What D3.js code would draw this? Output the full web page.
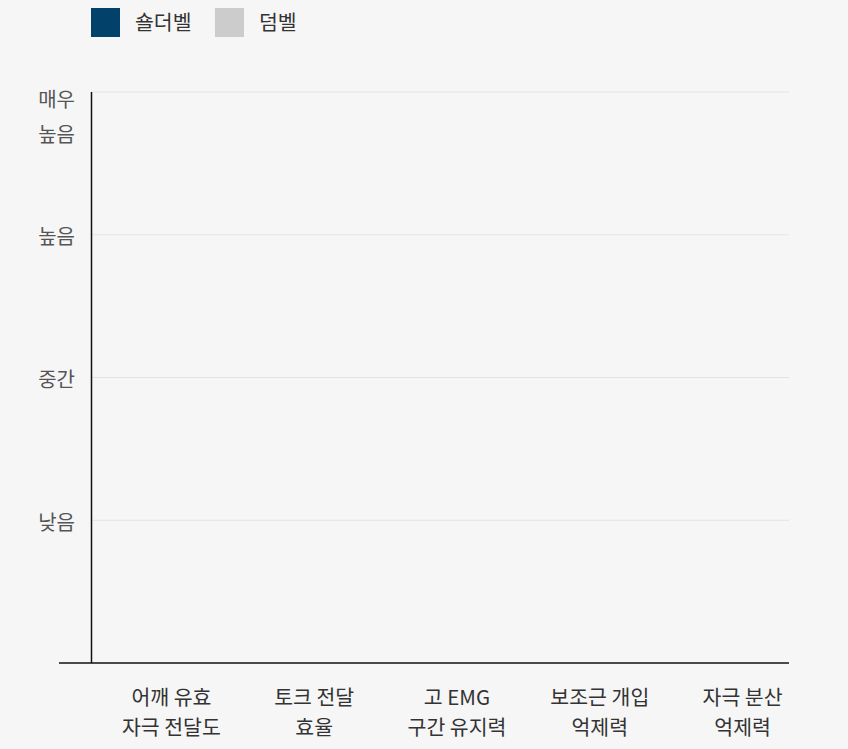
<!DOCTYPE html>
<html><head><meta charset="utf-8">
<script src="https://cdn.jsdelivr.net/npm/d3@7"></script>
<style>
html,body{margin:0;padding:0;background:#f6f6f6;}
svg{display:block;font-family:"Noto Sans CJK KR","Noto Sans",sans-serif;}
</style></head>
<body><svg id="c" width="848" height="749"></svg>
<script>
const categories = [["어깨 유효","자극 전달도"],["토크 전달","효율"],["고 EMG","구간 유지력"],["보조근 개입","억제력"],["자극 분산","억제력"]];
const seriesNames = ["숄더벨","덤벨"];
const seriesColors = ["#02426a","#cccccc"];
// bars are not visible in the reference (zero height)
const shoulderbell = [0,0,0,0,0];
const dumbbell = [0,0,0,0,0];
const tickValues = [1,2,3,4];
const tickLabels = [["낮음"],["중간"],["높음"],["매우","높음"]];

const svg = d3.select("#c");
const x = d3.scaleBand().domain(d3.range(categories.length)).range([100,814]).paddingInner(0.3).paddingOuter(0.15);
const y = d3.scaleLinear().domain([0,4]).range([663,92]);

// gridlines
svg.append("g").selectAll("line").data(tickValues).join("line")
  .attr("x1",91).attr("x2",789).attr("y1",d=>y(d)).attr("y2",d=>y(d))
  .attr("stroke","#e4e4e4").attr("stroke-width",1);

// bars
const x1 = d3.scaleBand().domain([0,1]).range([0,x.bandwidth()]).padding(0.05);
const all = [shoulderbell,dumbbell];
all.forEach((vals,si)=>{
  svg.append("g").selectAll("rect").data(vals).join("rect")
    .attr("x",(d,i)=>x(i)+x1(si)).attr("width",x1.bandwidth())
    .attr("y",d=>y(d)).attr("height",d=>y(0)-y(d)).attr("fill",seriesColors[si]);
});

// y axis
svg.append("line").attr("x1",91.5).attr("x2",91.5).attr("y1",y(4)).attr("y2",y(0)).attr("stroke","#111").attr("stroke-width",1.5);
// x axis
svg.append("line").attr("x1",59).attr("x2",789).attr("y1",663).attr("y2",663).attr("stroke","#111").attr("stroke-width",1.5);

// y labels
const yl = svg.append("g").attr("font-size",20).attr("fill","#555").attr("text-anchor","end");
tickValues.forEach((v,i)=>{
  const lines = tickLabels[i];
  const t = yl.append("text").attr("x",75).attr("y", lines.length>1 ? y(v)+15 : y(v)+9.5);
  lines.forEach((l,j)=>t.append("tspan").attr("x",75).attr("dy", j===0?0:35).text(l));
});

// x labels
const xl = svg.append("g").attr("font-size",20.5).attr("fill","#333").attr("text-anchor","middle");
categories.forEach((c,i)=>{
  const cx = x(i)+x.bandwidth()/2;
  const t = xl.append("text").attr("x",cx).attr("y",704.5);
  c.forEach((l,j)=>t.append("tspan").attr("x",cx).attr("dy",j===0?0:30).text(l));
});

// legend
const lg = svg.append("g");
const legX = [91,215];
seriesNames.forEach((n,i)=>{
  lg.append("rect").attr("x",legX[i]).attr("y",8).attr("width",29).attr("height",29).attr("fill",seriesColors[i]);
  lg.append("text").attr("x",legX[i]+44).attr("y",29.5).attr("font-size",20.5).attr("fill","#333").text(n);
});
</script></body></html>
